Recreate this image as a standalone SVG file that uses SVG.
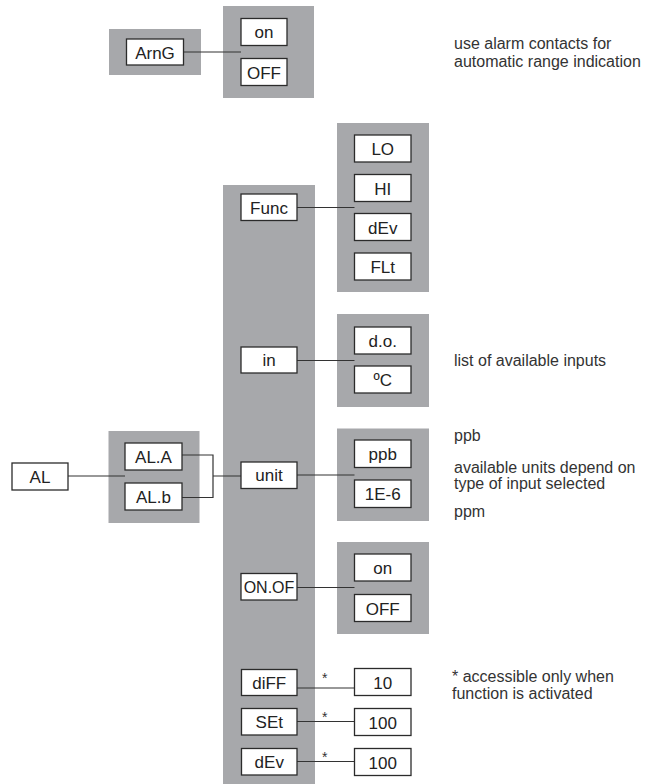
<svg xmlns="http://www.w3.org/2000/svg" width="658" height="784" viewBox="0 0 658 784">
<style>
.bg{fill:#a7a8ab;stroke:none}
.bx{fill:#fff;stroke:#2b2b2b;stroke-width:1.3}
.lb{font-family:"Liberation Sans",Arial,sans-serif;font-size:17px;fill:#222;text-anchor:middle}
.nt{font-family:"Liberation Sans",Arial,sans-serif;font-size:16px;fill:#333}
.ast{font-family:"Liberation Sans",Arial,sans-serif;font-size:14px;fill:#333}
.ln{fill:none;stroke:#333;stroke-width:1.2}
</style>
<rect width="658" height="784" fill="#fff"/>
<g id="panels">
<rect class="bg" x="109" y="29" width="92" height="46"/>
<rect class="bg" x="223" y="6" width="91" height="92"/>
<rect class="bg" x="223" y="185" width="92" height="599"/>
<rect class="bg" x="337" y="123" width="92" height="169"/>
<rect class="bg" x="337" y="314" width="92" height="93"/>
<rect class="bg" x="108.5" y="431" width="91" height="92"/>
<rect class="bg" x="337" y="428.5" width="92" height="92.5"/>
<rect class="bg" x="337" y="542" width="92" height="92"/>
</g>
<g id="connectors">
<path class="ln" d="M183.5 52H241"/>
<path class="ln" d="M297 207.5H354.5"/>
<path class="ln" d="M297 360.5H354.5"/>
<path class="ln" d="M68 476H125"/>
<path class="ln" d="M182 455H213V497.5H182M213 476H241"/>
<path class="ln" d="M297 475H354.5"/>
<path class="ln" d="M297 587.5H354.5"/>
<path class="ln" d="M297 688H354.5"/>
<path class="ln" d="M297 721.5H354.5"/>
<path class="ln" d="M297 761.5H354.5"/>
</g>
<g id="ArnG"><rect class="bx" x="126.5" y="39" width="57" height="26"/><text class="lb" x="155" y="58.5">ArnG</text></g>
<g id="ArnG-on"><rect class="bx" x="241" y="18.5" width="46" height="27"/><text class="lb" x="264" y="38">on</text></g>
<g id="ArnG-OFF"><rect class="bx" x="241" y="58.5" width="46" height="27"/><text class="lb" x="264" y="78.5">OFF</text></g>

<g id="Func"><rect class="bx" x="241" y="194" width="56" height="26.5"/><text class="lb" x="269" y="213.5">Func</text></g>
<g id="LO"><rect class="bx" x="354.5" y="135" width="56.5" height="27"/><text class="lb" x="382.75" y="155">LO</text></g>
<g id="HI"><rect class="bx" x="354.5" y="174.5" width="56.5" height="27"/><text class="lb" x="382.75" y="194.5">HI</text></g>
<g id="dEv-f"><rect class="bx" x="354.5" y="213.5" width="56.5" height="27"/><text class="lb" x="382.75" y="233.5">dEv</text></g>
<g id="FLt"><rect class="bx" x="354.5" y="253" width="56.5" height="27"/><text class="lb" x="382.75" y="273">FLt</text></g>

<g id="in"><rect class="bx" x="241" y="347" width="56" height="26"/><text class="lb" x="269" y="366">in</text></g>
<g id="do"><rect class="bx" x="354.5" y="327" width="56.5" height="27"/><text class="lb" x="382.75" y="346.5">d.o.</text></g>
<g id="degC"><rect class="bx" x="354.5" y="366" width="56.5" height="27"/><text class="lb" x="382.75" y="386">ºC</text></g>

<g id="AL"><rect class="bx" x="12" y="463" width="56" height="27"/><text class="lb" x="40" y="483">AL</text></g>
<g id="ALA"><rect class="bx" x="125" y="443" width="57" height="27"/><text class="lb" x="153.5" y="463">AL.A</text></g>
<g id="ALb"><rect class="bx" x="125" y="483" width="57" height="27"/><text class="lb" x="153.5" y="503">AL.b</text></g>

<g id="unit"><rect class="bx" x="241" y="462" width="56" height="26.5"/><text class="lb" x="269" y="481">unit</text></g>
<g id="ppb"><rect class="bx" x="354.5" y="440" width="56.5" height="27.5"/><text class="lb" x="382.75" y="459.5">ppb</text></g>
<g id="1E-6"><rect class="bx" x="354.5" y="480" width="56.5" height="27.5"/><text class="lb" x="382.75" y="500">1E-6</text></g>

<g id="ONOF"><rect class="bx" x="241" y="573.5" width="56" height="26.5"/><text class="lb" x="269" y="593" style="font-size:16px">ON.OF</text></g>
<g id="on2"><rect class="bx" x="354.5" y="554" width="56.5" height="27"/><text class="lb" x="382.75" y="573.5">on</text></g>
<g id="OFF2"><rect class="bx" x="354.5" y="594.5" width="56.5" height="27"/><text class="lb" x="382.75" y="614.5">OFF</text></g>

<g id="diFF"><rect class="bx" x="241.5" y="669.5" width="55.5" height="26"/><text class="lb" x="269.25" y="689">diFF</text></g>
<g id="v10"><rect class="bx" x="354.5" y="668.5" width="56.5" height="27"/><text class="lb" x="382.75" y="688.5">10</text></g>
<g id="SEt"><rect class="bx" x="241.5" y="708.5" width="55.5" height="26.5"/><text class="lb" x="269.25" y="728">SEt</text></g>
<g id="v100a"><rect class="bx" x="354.5" y="708.5" width="56.5" height="27"/><text class="lb" x="382.75" y="728.5">100</text></g>
<g id="dEv"><rect class="bx" x="241.5" y="748.5" width="55.5" height="26.5"/><text class="lb" x="269.25" y="768">dEv</text></g>
<g id="v100b"><rect class="bx" x="354.5" y="748.5" width="56.5" height="27"/><text class="lb" x="382.75" y="768.5">100</text></g>

<g id="notes">
<text class="ast" x="322" y="683">*</text>
<text class="ast" x="322" y="722">*</text>
<text class="ast" x="322" y="762">*</text>
<text class="nt" x="454" y="49">use alarm contacts for</text>
<text class="nt" x="454" y="67">automatic range indication</text>
<text class="nt" x="454" y="366">list of available inputs</text>
<text class="nt" x="454" y="441">ppb</text>
<text class="nt" x="454" y="473">available units depend on</text>
<text class="nt" x="454" y="489">type of input selected</text>
<text class="nt" x="454" y="517">ppm</text>
<text class="nt" x="452" y="682">* accessible only when</text>
<text class="nt" x="452" y="699">function is activated</text>
</g>
</svg>
